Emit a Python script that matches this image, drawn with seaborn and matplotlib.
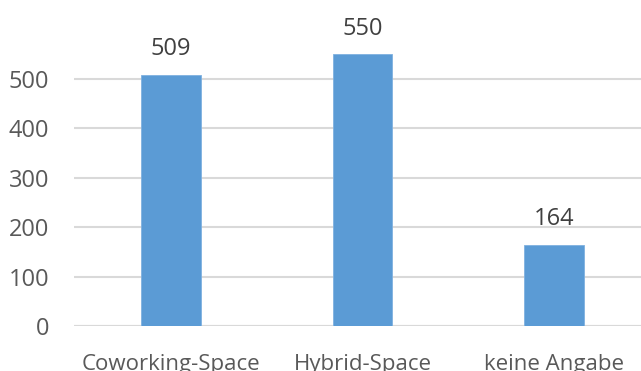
import matplotlib
matplotlib.use("Agg")
import matplotlib.pyplot as plt
import seaborn as sns
import pandas as pd

categories = ["Coworking-Space", "Hybrid-Space", "keine Angabe"]
values = [509, 550, 164]
yticks = [0, 100, 200, 300, 400, 500]

sns.set_theme(style="white")
plt.rcParams['font.family'] = ['Open Sans', 'DejaVu Sans']

df = pd.DataFrame({"cat": categories, "val": values})

fig = plt.figure(figsize=(6.41, 3.71), dpi=100)
ax = fig.add_axes([74/641, 45/371, 1 - 74/641, 326/371])

sns.barplot(data=df, x="cat", y="val", color="#5B9BD5", saturation=1,
            width=0.31, ax=ax, edgecolor="#7FB1E0", linewidth=0.6, zorder=3)

ax.set_xlim(-0.507, 2.454)
ax.set_ylim(0, 660)
ax.set_yticks(yticks)
ax.yaxis.grid(True, color="#D9D9D9", linewidth=1.5, zorder=0)
ax.set_axisbelow(True)
for s in ax.spines.values():
    s.set_visible(False)
ax.axhline(0, color="#D9D9D9", linewidth=1.5, zorder=1)

ax.set_xlabel("")
ax.set_ylabel("")
ax.tick_params(axis="y", length=0, pad=18, labelsize=17, labelcolor="#595959")
ax.tick_params(axis="x", length=0, pad=20, labelsize=16, labelcolor="#595959")

for i, v in enumerate(values):
    ax.text(i, v + 52, str(v), ha="center", va="center", fontsize=17, color="#404040")

fig.savefig("out.png", dpi=100)
